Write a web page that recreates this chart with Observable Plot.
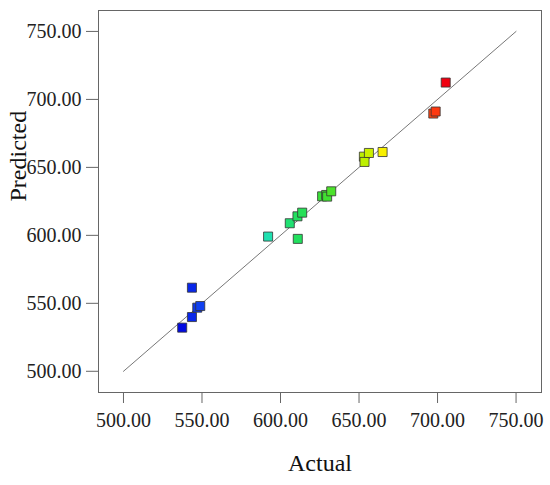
<!DOCTYPE html>
<html>
<head>
<meta charset="utf-8">
<script src="https://cdn.jsdelivr.net/npm/d3@7"></script>
<script src="https://cdn.jsdelivr.net/npm/@observablehq/plot@0.6"></script>
<style>
  body { margin: 0; background: #fff; }
  #chart svg { font-family: "Liberation Serif", "DejaVu Serif", serif; }
  #chart svg g[aria-label="x-axis tick label"] text,
  #chart svg g[aria-label="y-axis tick label"] text { font-size: 20px; }
</style>
</head>
<body>
<div id="chart"></div>
<script>
const actual    = [537.4, 543.6, 543.6, 547.0, 548.9, 592.1, 605.9, 611.0, 610.8, 613.8, 626.5, 629.1, 629.7, 632.3, 653.1, 653.5, 656.3, 665.0, 697.3, 698.8, 705.2];
const predicted = [532.1, 539.9, 561.5, 546.8, 548.0, 599.1, 608.9, 597.4, 614.0, 616.7, 628.7, 629.7, 628.5, 632.4, 657.9, 654.0, 660.6, 661.3, 689.6, 691.1, 712.4];
const ticks = [500, 550, 600, 650, 700, 750];
const diagonal = [500, 750];
const colorStops = [537, 549, 592, 610, 630, 654, 665, 698, 705];
const colorRange = ["#0008e0", "#1040f0", "#20e0b0", "#20e060", "#40e030", "#c0f000", "#f8f000", "#ff4010", "#f00010"];

const points = actual.map((a, i) => ({actual: a, predicted: predicted[i]}));

const plot = Plot.plot({
  width: 550,
  height: 485,
  marginLeft: 98,
  marginRight: 9,
  marginTop: 10,
  marginBottom: 93,
  style: {fontFamily: "Liberation Serif", fontSize: "20px", background: "#fff"},
  x: {domain: [484.1, 766.2], ticks: ticks, tickFormat: d3.format(".2f"), label: null},
  y: {domain: [484.4, 765.4], ticks: ticks, tickFormat: d3.format(".2f"), label: null},
  color: {type: "linear", domain: colorStops, range: colorRange, interpolate: "rgb"},
  marks: [
    Plot.frame({stroke: "#666", strokeWidth: 1}),
    Plot.axisX({ticks: ticks, tickFormat: d3.format(".2f"), tickSize: 11, tickPadding: 9, fontSize: 20, stroke: "#666", fill: "#222", label: null}),
    Plot.axisY({ticks: ticks, tickFormat: d3.format(".2f"), tickSize: 12, tickPadding: 5, fontSize: 20, stroke: "#666", fill: "#222", label: null}),
    Plot.line(diagonal, {x: d => d, y: d => d, stroke: "#777", strokeWidth: 1}),
    Plot.dot(points, {x: "actual", y: "predicted", symbol: "square", r: 5.1, fill: d => d.actual, stroke: "#333", strokeWidth: 0.8, fillOpacity: 1}),
    Plot.text(["Actual"], {frameAnchor: "bottom", dy: 78, text: d => d, fontSize: 24, fill: "#111"}),
    Plot.text(["Predicted"], {frameAnchor: "left", dx: -80, rotate: -90, text: d => d, fontSize: 24, fill: "#111"})
  ]
});
document.getElementById("chart").appendChild(plot);
</script>
</body>
</html>
